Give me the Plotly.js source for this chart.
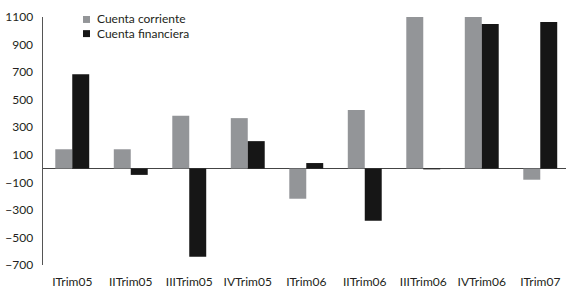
<!DOCTYPE html>
<html>
<head>
<meta charset="utf-8">
<script src="https://cdn.plot.ly/plotly-3.0.1.min.js"></script>
<style>html,body{margin:0;padding:0;background:#fff;}#chart{width:566px;height:292px;}</style>
</head>
<body>
<div id="chart"></div>
<script>
const categories = ["ITrim05","IITrim05","IIITrim05","IVTrim05","ITrim06","IITrim06","IIITrim06","IVTrim06","ITrim07"];
const cuentaCorriente = [140, 140, 383, 366, -219, 425, 1250, 1200, -81];
const cuentaFinanciera = [684, -46, -640, 199, 40, -379, -6, 1049, 1063];
const yTicks = [-700, -500, -300, -100, 100, 300, 500, 700, 900, 1100];
const seriesNames = ["Cuenta corriente", "Cuenta financiera"];
const seriesColors = ["#939598", "#161616"];

const traces = [
  {type: "bar", name: seriesNames[0], x: categories, y: cuentaCorriente,
   marker: {color: seriesColors[0], line: {width: 0}}, hoverinfo: "none"},
  {type: "bar", name: seriesNames[1], x: categories, y: cuentaFinanciera,
   marker: {color: seriesColors[1], line: {width: 0}}, hoverinfo: "none"}
];

// Compact legend drawn as paper-positioned squares + labels
const legendY = [[0.976, 1.004, 0.992], [0.919, 0.947, 0.933]];
const shapes = seriesNames.map((n, i) => ({
  type: "rect", xref: "paper", yref: "paper",
  x0: 0.0765, x1: 0.0899, y0: legendY[i][0], y1: legendY[i][1],
  fillcolor: seriesColors[i], line: {width: 0}
}));
const annotations = seriesNames.map((n, i) => ({
  text: n, xref: "paper", yref: "paper", x: 0.0994, y: legendY[i][2],
  xanchor: "left", yanchor: "middle", showarrow: false,
  font: {size: 12, color: "#231f20"}
}));

const layout = {
  width: 566, height: 292,
  margin: {l: 43, r: 0, t: 17, b: 27, pad: 0},
  paper_bgcolor: "#fff", plot_bgcolor: "#fff",
  font: {family: "Lato, 'DejaVu Sans', sans-serif", size: 12, color: "#231f20"},
  barmode: "group", bargap: 0.42, bargroupgap: 0,
  showlegend: false,
  shapes: shapes, annotations: annotations,
  xaxis: {type: "category", range: [-0.5, 8.44], showline: false, showgrid: false,
          zeroline: false, ticks: "", ticklabelstandoff: 8, tickfont: {size: 12}},
  yaxis: {range: [-700, 1100], tickmode: "array", tickvals: yTicks,
          showline: true, linecolor: "#555", linewidth: 1.5, showgrid: false,
          zeroline: true, zerolinecolor: "#444", zerolinewidth: 1.5,
          ticks: "", ticklabelstandoff: 6, tickfont: {size: 12}}
};

Plotly.newPlot("chart", traces, layout, {staticPlot: true, displayModeBar: false});
</script>
</body>
</html>
